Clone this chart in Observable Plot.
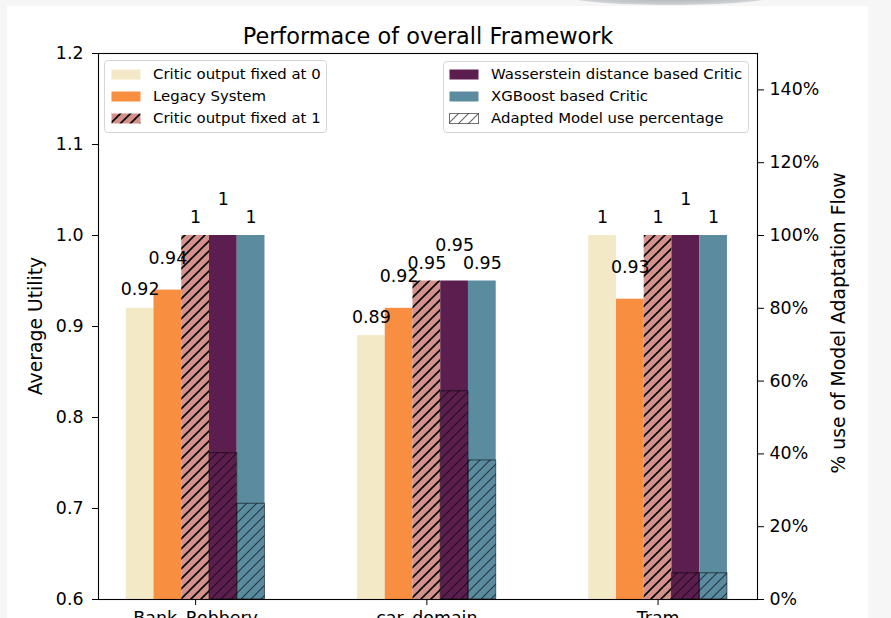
<!DOCTYPE html>
<html><head><meta charset="utf-8">
<script src="https://cdn.jsdelivr.net/npm/d3@7"></script>
<script src="https://cdn.jsdelivr.net/npm/@observablehq/plot@0.6"></script>
<style>
body{margin:0;background:#f6f6f6;font-family:"DejaVu Sans",sans-serif;}
#wrap{position:relative;width:891px;height:618px;overflow:hidden;}
#panel{position:absolute;left:7px;top:6px;width:861px;height:612px;background:#fff;}
#shadow{position:absolute;left:565px;top:-14px;width:210px;height:19px;border-radius:50%;background:radial-gradient(ellipse at center,#9ea3a8 0%,#c9cccf 60%,rgba(246,246,246,0) 100%);}
.layer{position:absolute;left:0;top:0;}
.legend{position:absolute;border:1px solid #d6d6d6;border-radius:4px;background:rgba(255,255,255,0.85);box-sizing:border-box;}
.row{position:absolute;height:22px;font-size:14.9px;line-height:22px;color:#000;white-space:nowrap;}
.row svg{position:absolute;top:6px;left:0;}
.row span{position:absolute;left:42px;top:0;}
.alabel{position:absolute;font-size:18.8px;line-height:1;white-space:nowrap;transform:translate(-50%,-50%) rotate(-90deg);color:#000;}
</style></head>
<body>
<div id="wrap">
  <div id="panel"></div>
  <div id="shadow"></div>
</div>
<script>
// ---- data ----
const categories = ["Bank_Robbery", "car_domain", "Tram"];
const seriesNames = ["Critic output fixed at 0", "Legacy System", "Critic output fixed at 1", "Wasserstein distance based Critic", "XGBoost based Critic"];
const fixed0 = [0.92, 0.89, 1];
const legacy = [0.94, 0.92, 0.93];
const fixed1 = [1, 0.95, 1];
const wasserstein = [1, 0.95, 1];
const xgboost = [1, 0.95, 1];
const adaptedLabel = "Adapted Model use percentage";
const adaptedWasserstein = [40.2, 57.2, 7.2];
const adaptedXGBoost = [26.3, 38.2, 7.2];
const utilityTicks = [0.6, 0.7, 0.8, 0.9, 1.0, 1.1, 1.2];
const percentTicks = [0, 20, 40, 60, 80, 100, 120, 140];
const titleText = "Performace of overall Framework";
const yLabel = "Average Utility";
const y2Label = "% use of Model Adaptation Flow";

// ---- styles ----
const seriesStyle = [
  {fill: "#f4e9c6", labelDy: 13},
  {fill: "#f88f40", labelDy: 26.5},
  {fill: "url(#hatch-pink)", labelDy: 12.5},
  {fill: "#5b1e4f", labelDy: 30.5},
  {fill: "#5a8b9f", labelDy: 12.5}
];
const barW = 0.12;
const W = 891, H = 618;
const margins = {marginLeft: 98, marginRight: 134, marginTop: 53, marginBottom: 19};
const xDomain = [-0.42, 2.43];
const font = "DejaVu Sans";

const seriesValues = [fixed0, legacy, fixed1, wasserstein, xgboost];
const rows = [];
categories.forEach((c, i) => seriesValues.forEach((vals, k) => rows.push({i, k, value: vals[i]})));
const adaptedRows = [];
categories.forEach((c, i) => {
  adaptedRows.push({i, k: 3, value: adaptedWasserstein[i]});
  adaptedRows.push({i, k: 4, value: adaptedXGBoost[i]});
});
const xc = d => d.i + (d.k - 2) * barW;

function addPatterns(svg) {
  const defs = d3.select(svg).insert("defs", ":first-child");
  const mk = (id, bg, stroke, sw, op) => {
    const p = defs.append("pattern").attr("id", id).attr("patternUnits", "userSpaceOnUse")
      .attr("width", 10).attr("height", 10);
    if (bg) p.append("rect").attr("width", 10).attr("height", 10).attr("fill", bg);
    p.append("path").attr("d", "M0,10L10,0M-2.5,2.5L2.5,-2.5M7.5,12.5L12.5,7.5")
      .attr("stroke", stroke).attr("stroke-width", sw).attr("stroke-opacity", op).attr("fill", "none");
  };
  mk("hatch-pink", "#d4908a", "#000", 1.6, 1);
  mk("hatch-gray", null, "#000", 1.1, 0.6);
}

const base = Plot.plot({
  width: W, height: H, ...margins,
  style: {background: "transparent", fontFamily: font, overflow: "visible"},
  x: {domain: xDomain},
  y: {domain: [0.6, 1.2]},
  marks: [
    Plot.rectY(rows, {
      x1: d => xc(d) - barW / 2, x2: d => xc(d) + barW / 2,
      y1: 0, y2: "value",
      fill: d => seriesStyle[d.k].fill, clip: true
    }),
    ...seriesStyle.map((s, k) => Plot.text(rows.filter(d => d.k === k), {
      x: xc, y: "value", text: d => String(d.value),
      lineAnchor: "bottom", dy: -s.labelDy, fontSize: 17.4, fill: "#000"
    })),
    Plot.text([titleText], {frameAnchor: "top", lineAnchor: "bottom", dy: -10, fontSize: 22.4, fill: "#000"}),
    Plot.axisY(utilityTicks, {anchor: "left", tickFormat: d3.format(".1f"), tickSize: 6, tickPadding: 9, fontSize: 17.4, label: null}),
    Plot.axisX([0, 1, 2], {tickFormat: i => categories[i], tickSize: 6, tickPadding: 6, fontSize: 17.4, label: null}),
    Plot.frame({stroke: "#000", strokeWidth: 1.1})
  ]
});
base.classList.add("layer");
addPatterns(base);

const overlay = Plot.plot({
  width: W, height: H, ...margins,
  style: {background: "transparent", fontFamily: font, overflow: "visible"},
  x: {domain: xDomain, axis: null},
  y: {domain: [0, 150]},
  marks: [
    Plot.rectY(adaptedRows, {
      x1: d => xc(d) - barW / 2, x2: d => xc(d) + barW / 2,
      y1: 0, y2: "value",
      fill: "url(#hatch-gray)", stroke: "#000", strokeOpacity: 0.55, strokeWidth: 1
    }),
    Plot.axisY(percentTicks, {anchor: "right", tickFormat: d => d + "%", tickSize: 6, tickPadding: 6, fontSize: 17.4, label: null})
  ]
});
overlay.classList.add("layer");

const wrap = document.getElementById("wrap");
wrap.appendChild(base);
wrap.appendChild(overlay);

// ---- legends ----
function swatch(kind) {
  const ns = "http://www.w3.org/2000/svg";
  const s = document.createElementNS(ns, "svg");
  s.setAttribute("width", 30); s.setAttribute("height", 11);
  const r = document.createElementNS(ns, "rect");
  r.setAttribute("x", 0.5); r.setAttribute("y", 0.5); r.setAttribute("width", 29); r.setAttribute("height", 10);
  if (kind === "adapted") {
    r.setAttribute("fill", "url(#hatch-gray)");
    r.setAttribute("stroke", "#000"); r.setAttribute("stroke-opacity", 0.55);
  } else {
    r.setAttribute("fill", kind);
  }
  s.appendChild(r);
  return s;
}
function legend(box, entries) {
  const div = document.createElement("div");
  div.className = "legend";
  Object.assign(div.style, {left: box.x + "px", top: box.y + "px", width: box.w + "px", height: box.h + "px"});
  entries.forEach((e, j) => {
    const row = document.createElement("div");
    row.className = "row";
    row.style.left = box.padX + "px";
    row.style.top = (box.rowTop + j * 22) + "px";
    row.appendChild(swatch(e.kind));
    const sp = document.createElement("span");
    sp.textContent = e.label;
    row.appendChild(sp);
    div.appendChild(row);
  });
  wrap.appendChild(div);
}
legend({x: 104, y: 60, w: 223, h: 73, padX: 6, rowTop: 2}, [
  {kind: seriesStyle[0].fill, label: seriesNames[0]},
  {kind: seriesStyle[1].fill, label: seriesNames[1]},
  {kind: seriesStyle[2].fill, label: seriesNames[2]}
]);
legend({x: 443, y: 61, w: 306, h: 72, padX: 5, rowTop: 1}, [
  {kind: seriesStyle[3].fill, label: seriesNames[3]},
  {kind: seriesStyle[4].fill, label: seriesNames[4]},
  {kind: "adapted", label: adaptedLabel}
]);

// ---- axis labels ----
function axisLabel(text, cx, cy) {
  const d = document.createElement("div");
  d.className = "alabel";
  d.textContent = text;
  d.style.left = cx + "px"; d.style.top = cy + "px";
  wrap.appendChild(d);
}
axisLabel(yLabel, 36, 326);
axisLabel(y2Label, 839, 323);
</script>
</body></html>
